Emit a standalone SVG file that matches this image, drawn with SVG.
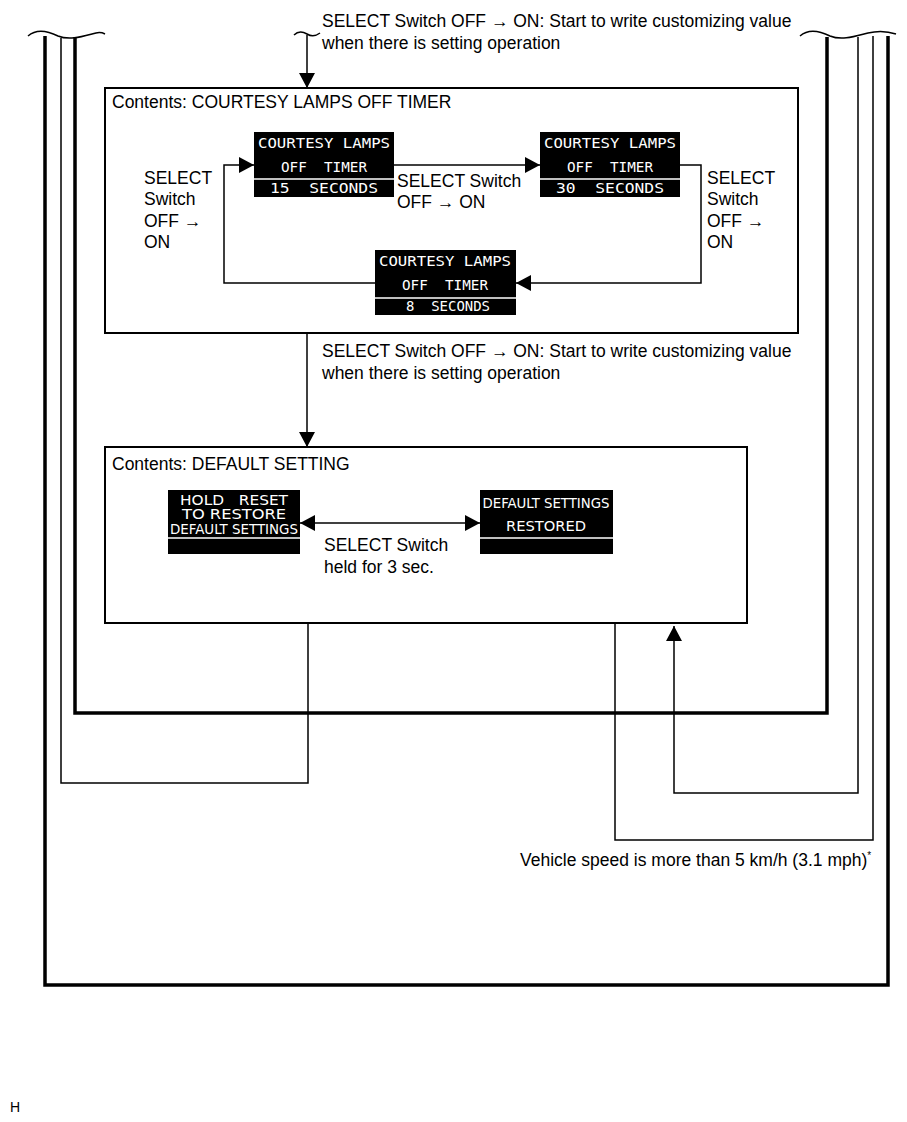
<svg xmlns="http://www.w3.org/2000/svg" width="907" height="1122" viewBox="0 0 907 1122">
<defs>
<style>
.t{font-family:"Liberation Sans",Arial,sans-serif;font-size:17.5px;fill:#000}
.lcd{fill:#000}
.lt{font-family:"DejaVu Sans Mono","Liberation Mono",monospace;font-size:14px;fill:#fff;text-anchor:middle;white-space:pre}
.lc{font-family:"DejaVu Sans Condensed","Liberation Sans Narrow",sans-serif;font-size:14px;fill:#fff;text-anchor:middle;white-space:pre}
.wl{stroke:#fff;stroke-width:1.5}
.box{fill:#fff;stroke:#000;stroke-width:2}
.thick{fill:none;stroke:#000;stroke-width:3.5}
.thin{fill:none;stroke:#000;stroke-width:1.5}
.wave{fill:none;stroke:#000;stroke-width:1.5}
</style>
<marker id="ah" markerUnits="userSpaceOnUse" markerWidth="18" markerHeight="18" refX="15" refY="8" orient="auto">
<path d="M0,0 L15,8 L0,16 Z" fill="#000"/>
</marker>
<marker id="ahs" markerUnits="userSpaceOnUse" markerWidth="18" markerHeight="18" refX="15" refY="8" orient="auto-start-reverse">
<path d="M0,0 L15,8 L0,16 Z" fill="#000"/>
</marker>
</defs>
<rect width="907" height="1122" fill="#fff"/>

<g id="box-timer">
<rect class="box" x="105" y="88" width="693" height="245"/>
<text class="t" x="112" y="108">Contents: COURTESY LAMPS OFF TIMER</text>
</g>

<g id="box-default">
<rect class="box" x="105" y="447" width="642" height="176"/>
<text class="t" x="112" y="470">Contents: DEFAULT SETTING</text>
</g>

<g id="connectors">
<path class="thick" d="M45,36 V985 H888 V36"/>
<path class="thick" d="M75,37 V713 H827 V37"/>
<path class="thin" d="M61,38 V783 H308 V623"/>
<path class="thin" d="M873,36 V840 H615 V623"/>
<path class="thin" d="M858,37 V793 H674 V626" marker-end="url(#ah)"/>
<path class="wave" d="M28,36 C36,29 46,30 58,36 C70,41 84,36 96,33 C100,32 103,33 105,34"/>
<path class="wave" d="M800,36 C808,29 818,30 830,36 C842,41 856,36 868,33 C880,30 890,32 896,34"/>
<path class="wave" d="M294,35 C298,31 302,31 307,34 C312,37 316,36 320,33"/>
<path class="thin" d="M307,35 V88" marker-end="url(#ah)"/>
<path class="thin" d="M307,333 V447" marker-end="url(#ah)"/>
<path class="thin" d="M394,165 H540" marker-end="url(#ah)"/>
<path class="thin" d="M680,165 H701 V283 H516" marker-end="url(#ah)"/>
<path class="thin" d="M375,283 H224 V165 H254" marker-end="url(#ah)"/>
<path class="thin" d="M300,523 H480" marker-start="url(#ahs)" marker-end="url(#ah)"/>
</g>

<text class="t" x="322" y="27">SELECT Switch OFF → ON: Start to write customizing value</text>
<text class="t" x="322" y="49">when there is setting operation</text>

<g id="lcd-15">
<rect class="lcd" x="254" y="132" width="140" height="65"/>
<line class="wl" x1="254" y1="179" x2="394" y2="179"/>
<text class="lt" x="324" y="148" textLength="132" lengthAdjust="spacingAndGlyphs">COURTESY LAMPS</text>
<text class="lt" x="324" y="172" textLength="86" lengthAdjust="spacingAndGlyphs">OFF  TIMER</text>
<text class="lt" x="324" y="193" textLength="108" lengthAdjust="spacingAndGlyphs">15  SECONDS</text>
</g>

<g id="lcd-30">
<rect class="lcd" x="540" y="132" width="140" height="65"/>
<line class="wl" x1="540" y1="179" x2="680" y2="179"/>
<text class="lt" x="610" y="148" textLength="132" lengthAdjust="spacingAndGlyphs">COURTESY LAMPS</text>
<text class="lt" x="610" y="172" textLength="86" lengthAdjust="spacingAndGlyphs">OFF  TIMER</text>
<text class="lt" x="610" y="193" textLength="108" lengthAdjust="spacingAndGlyphs">30  SECONDS</text>
</g>

<g id="lcd-8">
<rect class="lcd" x="375" y="250" width="141" height="65"/>
<line class="wl" x1="375" y1="298" x2="516" y2="298"/>
<text class="lt" x="445" y="266" textLength="132" lengthAdjust="spacingAndGlyphs">COURTESY LAMPS</text>
<text class="lt" x="445" y="290" textLength="86" lengthAdjust="spacingAndGlyphs">OFF  TIMER</text>
<text class="lt" x="448" y="311" textLength="84" lengthAdjust="spacingAndGlyphs">8  SECONDS</text>
</g>

<text class="t" x="144" y="184">SELECT</text>
<text class="t" x="144" y="205">Switch</text>
<text class="t" x="144" y="227">OFF →</text>
<text class="t" x="144" y="248">ON</text>

<text class="t" x="397" y="187">SELECT Switch</text>
<text class="t" x="397" y="208">OFF → ON</text>

<text class="t" x="707" y="184">SELECT</text>
<text class="t" x="707" y="205">Switch</text>
<text class="t" x="707" y="227">OFF →</text>
<text class="t" x="707" y="248">ON</text>

<text class="t" x="322" y="357">SELECT Switch OFF → ON: Start to write customizing value</text>
<text class="t" x="322" y="379">when there is setting operation</text>

<g id="lcd-hold">
<rect class="lcd" x="168" y="490" width="132" height="64"/>
<line class="wl" x1="168" y1="538" x2="300" y2="538"/>
<text class="lc" x="234" y="505" textLength="108" lengthAdjust="spacingAndGlyphs">HOLD   RESET</text>
<text class="lc" x="234" y="519" textLength="104" lengthAdjust="spacingAndGlyphs">TO RESTORE</text>
<text class="lc" x="234" y="534" textLength="128" lengthAdjust="spacingAndGlyphs">DEFAULT SETTINGS</text>
</g>

<g id="lcd-restored">
<rect class="lcd" x="480" y="490" width="133" height="64"/>
<line class="wl" x1="480" y1="538" x2="613" y2="538"/>
<text class="lc" x="546" y="508" textLength="127" lengthAdjust="spacingAndGlyphs">DEFAULT SETTINGS</text>
<text class="lc" x="546" y="531" textLength="80" lengthAdjust="spacingAndGlyphs">RESTORED</text>
</g>

<text class="t" x="324" y="551">SELECT Switch</text>
<text class="t" x="324" y="573">held for 3 sec.</text>

<text class="t" x="520" y="866">Vehicle speed is more than 5 km/h (3.1 mph)<tspan font-size="10" dy="-7">*</tspan></text>

<text x="10" y="1112" style="font-family:'Liberation Sans',Arial,sans-serif;font-size:14px">H</text>
</svg>
